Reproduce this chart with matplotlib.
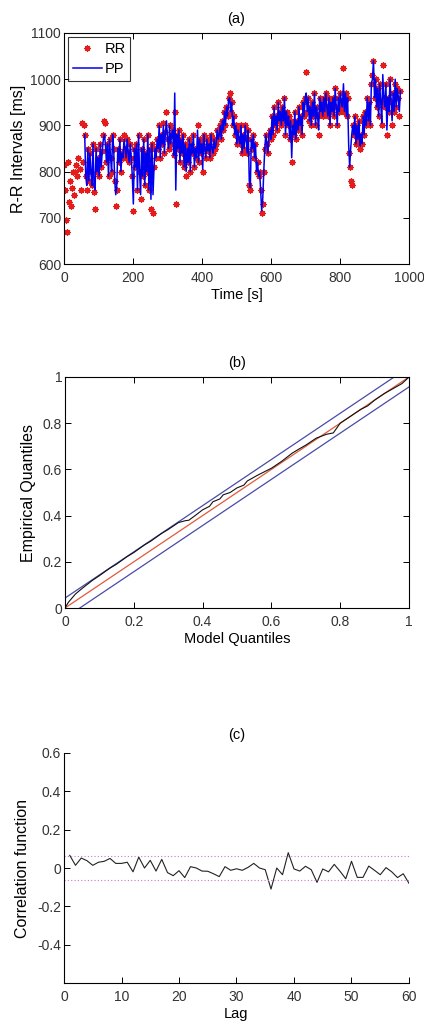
import numpy as np
import matplotlib
matplotlib.use("Agg")
import matplotlib.pyplot as plt

plt.rcParams['font.family'] = ['Liberation Sans', 'DejaVu Sans']

# ---------------- Panel (a) data ----------------
rr_values = [
    815, 760, 695, 670, 820, 735, 780, 725, 765, 800,
    750, 800, 815, 790, 830, 805, 760, 905, 820, 900,
    880, 790, 760, 850, 780, 840, 800, 770, 860, 755,
    720, 850, 800, 830, 790, 860, 810, 845, 880, 910,
    905, 820, 860, 790, 870, 830, 800, 880, 850, 780,
    725, 760, 850, 820, 870, 800, 840, 830, 880, 850,
    830, 870, 840, 820, 860, 830, 790, 715, 850, 810,
    860, 760, 880, 800, 740, 850, 790, 870, 770, 840,
    800, 880, 760, 850, 720, 860, 710, 810, 850, 830,
    870, 850, 900, 830, 880, 860, 905, 840, 885, 930,
    870, 850, 900, 860, 880, 890, 835, 930, 730, 880,
    850, 890, 820, 870, 840, 880, 810, 860, 790, 850,
    820, 870, 800, 860, 840, 880, 810, 850, 830, 900,
    820, 870, 840, 860, 800, 880, 850, 830, 870, 845,
    860, 830, 880, 850, 840, 870, 850, 860, 890, 870,
    880, 900, 870, 910, 890, 930, 900, 940, 920, 960,
    970, 930, 950, 900, 920, 880, 900, 860, 890, 870,
    860, 900, 840, 880, 850, 900, 870, 840, 890, 770,
    760, 870, 850, 880, 830, 860, 800, 820, 790, 800,
    760, 710, 730, 800, 850, 880, 860, 840, 880, 890,
    870, 920, 880, 940, 900, 920, 890, 950, 910, 930,
    900, 940, 910, 960, 880, 930, 900, 920, 870, 910,
    820, 900, 880, 930, 870, 910, 890, 940, 900, 920,
    880, 950, 920, 960, 1015, 930, 960, 910, 940, 900,
    950, 920, 970, 900, 940, 920, 880, 960, 930, 950,
    920, 960, 930, 970, 940, 920, 960, 900, 950, 930,
    960, 920, 980, 940, 900, 960, 930, 970, 950, 940,
    1025, 930, 970, 920, 960, 840, 810, 780, 770, 900,
    880, 920, 860, 900, 870, 910, 850, 880, 860, 920,
    880, 930, 900, 960, 910, 950, 900, 990, 1010, 1040,
    960, 1000, 940, 980, 920, 990, 950, 900, 1030, 960,
    940, 990, 880, 960, 930, 1000, 950, 900, 970, 930,
    990, 940, 980, 960, 920, 975,
]
rr_start, rr_end = 0, 975

pp_values = [
    880, 790, 770, 850, 780, 840, 800, 770, 860, 770,
    760, 850, 800, 830, 790, 860, 810, 845, 870, 880,
    860, 820, 860, 790, 870, 830, 800, 880, 850, 780,
    750, 770, 850, 820, 870, 800, 840, 830, 870, 850,
    830, 870, 840, 820, 860, 830, 790, 730, 850, 810,
    860, 760, 880, 800, 750, 850, 790, 870, 770, 840,
    800, 880, 760, 850, 740, 860, 750, 810, 850, 830,
    870, 850, 900, 830, 880, 860, 900, 840, 885, 910,
    870, 850, 900, 860, 880, 890, 835, 970, 760, 880,
    850, 890, 820, 870, 840, 880, 810, 860, 800, 850,
    820, 870, 800, 860, 840, 880, 810, 850, 830, 890,
    820, 870, 840, 860, 805, 880, 850, 830, 870, 845,
    860, 830, 880, 850, 840, 870, 850, 860, 890, 870,
    880, 900, 870, 910, 890, 930, 900, 940, 920, 955,
    960, 930, 950, 900, 920, 880, 900, 860, 890, 870,
    860, 900, 840, 880, 850, 900, 870, 840, 890, 780,
    765, 870, 850, 880, 830, 860, 800, 820, 790, 800,
    760, 715, 740, 800, 850, 880, 860, 840, 880, 890,
    870, 920, 880, 940, 900, 920, 890, 950, 910, 930,
    900, 940, 910, 960, 880, 930, 900, 920, 870, 910,
    830, 900, 880, 930, 870, 910, 890, 940, 900, 920,
    880, 950, 920, 960, 970, 930, 960, 910, 940, 900,
    950, 920, 970, 900, 940, 920, 890, 960, 930, 950,
    920, 960, 930, 970, 940, 920, 960, 900, 950, 930,
    960, 920, 980, 940, 900, 960, 930, 970, 950, 940,
    990, 930, 970, 920, 960, 860, 810, 850, 880, 900,
    880, 920, 860, 900, 870, 910, 855, 880, 860, 920,
    880, 930, 900, 960, 910, 950, 900, 990, 1000, 1040,
    960, 1000, 940, 980, 920, 990, 950, 905, 1010, 960,
    940, 990, 890, 960, 930, 1000, 950, 910, 970, 930,
    1000, 940, 980, 960, 930, 975,
]
pp_start, pp_end = 60, 975

# ---------------- Panel (b) data ----------------
model_q = [0, 0.01, 0.03, 0.05, 0.08, 0.1, 0.13, 0.15, 0.18, 0.2, 0.23, 0.25,
           0.28, 0.3, 0.33, 0.35, 0.36, 0.38, 0.4, 0.42, 0.43, 0.45, 0.46, 0.48,
           0.5, 0.52, 0.53, 0.56, 0.58, 0.6, 0.63, 0.66, 0.68, 0.7, 0.73, 0.76,
           0.78, 0.8, 0.83, 0.86, 0.88, 0.9, 0.93, 0.96, 0.98, 1.0]
empirical_q = [0, 0.025, 0.06, 0.085, 0.12, 0.14, 0.172, 0.19, 0.222, 0.24, 0.272, 0.29,
               0.322, 0.34, 0.37, 0.378, 0.38, 0.402, 0.425, 0.44, 0.46, 0.472, 0.49, 0.5,
               0.52, 0.532, 0.55, 0.575, 0.59, 0.605, 0.635, 0.67, 0.688, 0.705, 0.735, 0.752,
               0.758, 0.80, 0.83, 0.86, 0.875, 0.90, 0.93, 0.955, 0.972, 1.0]
ks_bound = 0.043

# ---------------- Panel (c) data ----------------
lags = list(range(1, 61))
acf = [0.066, 0.014, 0.052, 0.038, 0.014, 0.030, 0.035, 0.050, 0.024, 0.024,
       0.030, -0.020, 0.057, 0.000, 0.040, -0.016, 0.045, -0.024, -0.040, -0.014,
       -0.050, 0.007, 0.000, -0.016, -0.017, -0.030, -0.045, 0.007, -0.012, -0.004,
       -0.012, 0.003, 0.024, 0.000, -0.009, -0.110, 0.000, -0.035, 0.080, -0.005,
       -0.016, 0.009, -0.009, -0.075, -0.005, -0.020, 0.019, -0.017, -0.056, 0.035,
       -0.049, -0.049, 0.010, -0.012, -0.035, 0.002, -0.020, -0.050, -0.030, -0.080]
conf_bound = 0.062

# ---------------- Figure ----------------
fig = plt.figure(figsize=(4.24, 10.26), dpi=100)
W, H = 424, 1026


def ax_rect(l, t, r, b):
    return [l / W, 1 - b / H, (r - l) / W, (b - t) / H]


tick_fs = 10
xlab_fs = 10.5
ylab_fs = 11.5
title_fs = 10.5
tick_col = '#333333'


def style(ax, box=True):
    ax.tick_params(direction='in', length=4, width=0.7, labelsize=tick_fs,
                   colors='black', labelcolor=tick_col, top=box, right=box)
    ax.tick_params(axis='x', pad=5)
    ax.tick_params(axis='y', pad=2)
    for s in ax.spines.values():
        s.set_linewidth(0.8)
    if not box:
        ax.spines['top'].set_visible(False)
        ax.spines['right'].set_visible(False)


# (a)
ax1 = fig.add_axes(ax_rect(64, 33, 409, 264))
t_rr = np.linspace(rr_start, rr_end, len(rr_values))
t_pp = np.linspace(pp_start, pp_end, len(pp_values))
ax1.plot(t_rr, rr_values, linestyle='none', marker=(8, 2, 0), markersize=4.5,
         markeredgewidth=0.9, color='#e61b1b', label='RR')
ax1.plot(t_pp, pp_values, color='#0000ee', linewidth=1.1, label='PP')
ax1.set_xlim(0, 1000)
ax1.set_ylim(600, 1100)
ax1.set_xticks(np.arange(0, 1001, 200))
ax1.set_yticks(np.arange(600, 1101, 100))
ax1.set_xlabel('Time [s]', fontsize=xlab_fs, labelpad=2)
ax1.set_ylabel('R-R Intervals [ms]', fontsize=ylab_fs, labelpad=3)
ax1.set_title('(a)', fontsize=title_fs, pad=7)
style(ax1)
leg = ax1.legend(loc='upper left', fontsize=10.5, frameon=True, fancybox=False,
                 edgecolor='black', borderpad=0.3, handlelength=2.0,
                 handletextpad=0.2, labelspacing=0.45, borderaxespad=0.3)
leg.get_frame().set_linewidth(0.8)

# (b)
ax2 = fig.add_axes(ax_rect(65, 377, 409, 608))
diag = [0, 1]
ax2.plot(diag, [d + ks_bound for d in diag], color='#4a4aa8', linewidth=0.9)
ax2.plot(diag, [d - ks_bound for d in diag], color='#4a4aa8', linewidth=0.9)
ax2.plot(diag, diag, color='#e05a3a', linewidth=0.9)
ax2.plot(model_q, empirical_q, color='#111111', linewidth=0.8)
ax2.set_xlim(0, 1)
ax2.set_ylim(0, 1)
ticks_b = [0, 0.2, 0.4, 0.6, 0.8, 1]
ax2.set_xticks(ticks_b)
ax2.set_yticks(ticks_b)
ax2.set_xticklabels(['0', '0.2', '0.4', '0.6', '0.8', '1'])
ax2.set_yticklabels(['0', '0.2', '0.4', '0.6', '0.8', '1'])
ax2.set_xlabel('Model Quantiles', fontsize=xlab_fs, labelpad=2)
ax2.set_ylabel('Empirical Quantiles', fontsize=ylab_fs, labelpad=5)
ax2.set_title('(b)', fontsize=title_fs, pad=7)
style(ax2)

# (c)
ax3 = fig.add_axes(ax_rect(64, 753, 409, 983))
ax3.plot(lags, acf, color='#222222', linewidth=0.8)
ax3.axhline(conf_bound, color='#cc77cc', linestyle=(0, (1, 2)), linewidth=0.8)
ax3.axhline(-conf_bound, color='#cc77cc', linestyle=(0, (1, 2)), linewidth=0.8)
ax3.set_xlim(0, 60)
ax3.set_ylim(-0.6, 0.6)
ax3.set_xticks(np.arange(0, 61, 10))
ax3.set_yticks([-0.4, -0.2, 0, 0.2, 0.4, 0.6])
ax3.set_yticklabels(['-0.4', '-0.2', '0', '0.2', '0.4', '0.6'])
ax3.set_xlabel('Lag', fontsize=xlab_fs, labelpad=2)
ax3.set_ylabel('Correlation function', fontsize=ylab_fs, labelpad=5)
ax3.set_title('(c)', fontsize=title_fs, pad=10)
style(ax3, box=False)

fig.savefig('out.png', dpi=100)
